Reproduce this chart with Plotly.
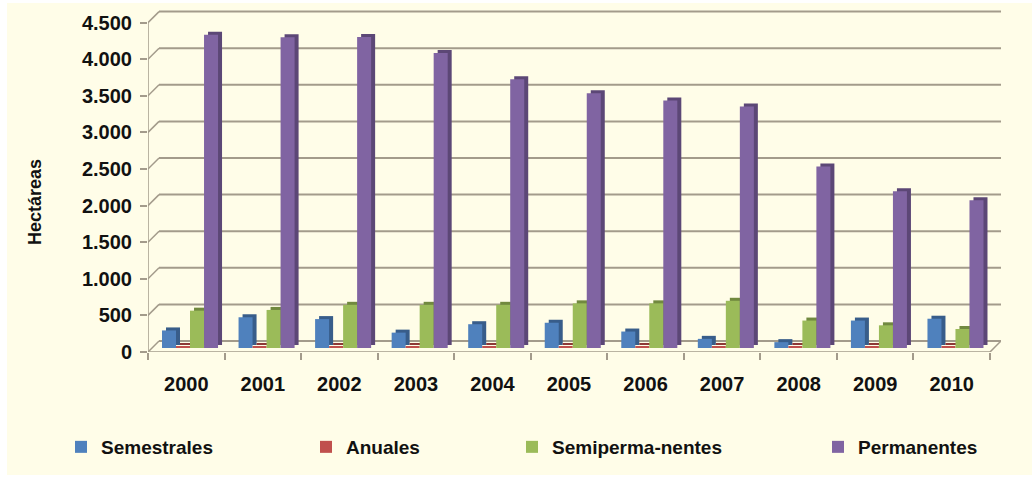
import plotly.graph_objects as go

years = ["2000", "2001", "2002", "2003", "2004", "2005", "2006", "2007", "2008", "2009", "2010"]
semestrales = [240, 420, 395, 210, 325, 345, 225, 125, 80, 375, 400]
anuales = [25, 25, 25, 25, 25, 25, 25, 25, 25, 25, 25]
semipermanentes = [510, 520, 590, 590, 590, 610, 610, 645, 375, 310, 260]
permanentes = [4280, 4245, 4250, 4030, 3670, 3480, 3380, 3300, 2480, 2140, 2020]
y_ticks = [0, 500, 1000, 1500, 2000, 2500, 3000, 3500, 4000, 4500]

series_names = ["Semestrales", "Anuales", "Semiperma-nentes", "Permanentes"]
series_values = [semestrales, anuales, semipermanentes, permanentes]
front_colors = ["#4F81BD", "#C0504D", "#9BBB59", "#8064A2"]
side_colors = ["#385D8A", "#8C3836", "#71893F", "#5C4776"]

# geometry (pixels)
W, H = 1032, 477
L, R, T, B = 148, 31, 8, 125
plot_w = W - L - R
plot_h = H - T - B
px_per_unit = 36.6 / 500.0
yrange_max = plot_h / px_per_unit
grid_shift = 11 / px_per_unit      # back wall offset (y units)
bar_shift = 4 / px_per_unit        # bars sit slightly behind the front
cat_px = 76.5
back = 11 / cat_px                 # back wall offset (category units)
bar_w = 14 / cat_px
first_off = (162 - (L + cat_px / 2)) / cat_px
depth_dx = 4 / cat_px
depth_dy = 3 / px_per_unit

FONT = "Liberation Sans, Arial, sans-serif"
LINE = "#A39B8B"

fig = go.Figure()
legends = ["legend", "legend2", "legend3", "legend4"]
for i, (name, vals) in enumerate(zip(series_names, series_values)):
    off = first_off + i * bar_w
    # depth (side + top faces)
    fig.add_trace(go.Bar(
        x=years, y=vals, base=depth_dy, offset=off + depth_dx, width=bar_w,
        marker=dict(color=side_colors[i], line=dict(width=0)),
        yaxis="y3", showlegend=False, hoverinfo="skip",
    ))
    # front face
    fig.add_trace(go.Bar(
        x=years, y=vals, name=name, offset=off, width=bar_w,
        marker=dict(color=front_colors[i], line=dict(width=0)),
        yaxis="y3", legend=legends[i],
    ))
fig.add_trace(go.Scatter(x=[], y=[], yaxis="y", showlegend=False, hoverinfo="skip"))
fig.add_trace(go.Scatter(x=[], y=[], yaxis="y2", showlegend=False, hoverinfo="skip"))

def px2paper_x(px):
    return (px - L) / plot_w

def px2paper_y(py):
    return (H - B - py) / plot_h

shapes = []
shapes.append(dict(type="rect", xref="paper", yref="paper", layer="below",
                   x0=px2paper_x(7), x1=px2paper_x(1032), y0=px2paper_y(475), y1=px2paper_y(3),
                   fillcolor="#FFFDE8", line=dict(width=0)))
x_left = -0.5
x_right = len(years) - 0.5
for v in y_ticks:
    shapes.append(dict(type="line", xref="x", yref="y2", layer="below",
                       x0=x_left + back, x1=x_right + back, y0=v, y1=v,
                       line=dict(color=LINE, width=2)))
    shapes.append(dict(type="line", xref="x", yref="y2", layer="below",
                       x0=x_left, x1=x_left + back, y0=v - grid_shift, y1=v,
                       line=dict(color=LINE, width=1.5)))
shapes.append(dict(type="line", xref="x", yref="y", layer="below",
                   x0=x_left, x1=x_right, y0=0, y1=0, line=dict(color=LINE, width=1.5)))
shapes.append(dict(type="line", xref="x", yref="y2", layer="below",
                   x0=x_right, x1=x_right + back, y0=-grid_shift, y1=0, line=dict(color=LINE, width=1.5)))
shapes.append(dict(type="line", xref="x", yref="y", layer="below",
                   x0=x_left, x1=x_left, y0=0, y1=y_ticks[-1], line=dict(color=LINE, width=1.5)))

legend_text_px = [103, 348, 554, 860]
leg_layout = {}
for lg, tx in zip(legends, legend_text_px):
    leg_layout[lg] = dict(
        x=px2paper_x(tx - 42), xanchor="left", y=px2paper_y(447), yanchor="middle",
        orientation="h", bgcolor="rgba(0,0,0,0)",
        font=dict(family=FONT, size=19, color="#111111", weight="bold"),
    )

fig.update_layout(
    width=W, height=H,
    margin=dict(l=L, r=R, t=T, b=B, autoexpand=False),
    paper_bgcolor="white", plot_bgcolor="rgba(0,0,0,0)",
    separators=",.",
    barmode="overlay",
    showlegend=True,
    shapes=shapes,
    xaxis=dict(type="category", categoryorder="array", categoryarray=years,
               range=[x_left, x_right + back], tickson="boundaries",
               ticks="outside", ticklen=7, tickcolor=LINE, tickwidth=1.5,
               showgrid=False, showline=False, zeroline=False, automargin=False,
               tickfont=dict(family=FONT, size=20, color="#111111", weight="bold"),
               ticklabelstandoff=18),
    yaxis=dict(range=[0, yrange_max], tickvals=y_ticks, tickformat=",d",
               ticks="outside", ticklen=7, tickcolor=LINE, tickwidth=1.5,
               showgrid=False, showline=False, zeroline=False, automargin=False,
               tickfont=dict(family=FONT, size=20, color="#111111", weight="bold"),
               ticklabelstandoff=4),
    yaxis2=dict(range=[-grid_shift, yrange_max - grid_shift], overlaying="y",
                visible=False, showgrid=False, zeroline=False),
    yaxis3=dict(range=[-bar_shift, yrange_max - bar_shift], overlaying="y",
                visible=False, showgrid=False, zeroline=False),
    annotations=[dict(text="Hectáreas", textangle=-90, xref="paper", yref="paper",
                      x=px2paper_x(35), y=px2paper_y(202), xanchor="center", yanchor="middle",
                      showarrow=False,
                      font=dict(family=FONT, size=18, color="#111111", weight="bold"))],
    **leg_layout,
)

fig.write_html("out.html", config={"displayModeBar": False},
               post_script="document.body.style.margin='0';")
